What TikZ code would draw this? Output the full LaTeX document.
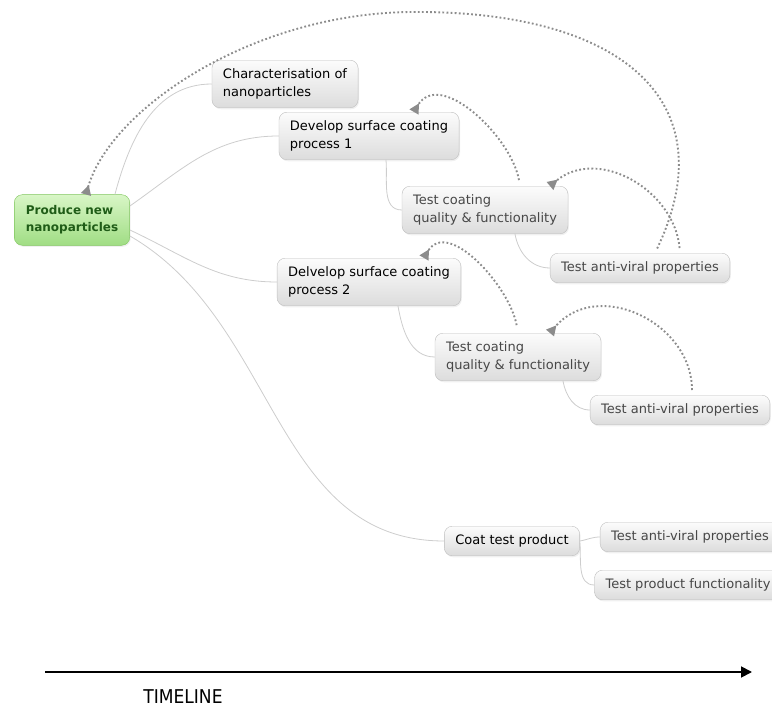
\documentclass[tikz,border=0pt]{standalone}
\usepackage{fontspec}
\usepackage{tikz}
\setmainfont{DejaVu Sans}
\newfontfamily\timelinefont{DejaVu Sans Condensed}
\usetikzlibrary{arrows.meta,shadows}
\definecolor{boxtop}{HTML}{FCFCFC}
\definecolor{boxbottom}{HTML}{DCDCDC}
\definecolor{boxborder}{HTML}{BEBEBE}
\definecolor{roottop}{HTML}{D8F6C6}
\definecolor{rootbottom}{HTML}{A0DD84}
\definecolor{rootborder}{HTML}{7EC55C}
\definecolor{roottext}{HTML}{1F5C17}
\definecolor{branchgray}{HTML}{CDCDCD}
\definecolor{relgray}{HTML}{8C8C8C}
\definecolor{subtext}{HTML}{474747}

\begin{document}
\begin{tikzpicture}[x=1pt,y=1pt,
	every node/.style={font=\fontsize{13}{18}\selectfont,align=left},
	topic/.style={draw=boxborder,top color=boxtop,bottom color=boxbottom,rounded corners=8pt,inner xsep=11pt,inner ysep=8.5pt,drop shadow={opacity=0.12,shadow xshift=1pt,shadow yshift=-1.5pt}},
	subtopic/.style={topic,text=subtext},
	rootnode/.style={topic,draw=rootborder,top color=roottop,bottom color=rootbottom,text=roottext,inner xsep=11.5pt,inner ysep=11pt,font=\fontsize{12}{17}\selectfont\bfseries},
	branch/.style={draw=branchgray,line width=0.8pt},
	relarrow/.style={draw=relgray,line width=1.9pt,dash pattern=on 1.8pt off 2.3pt,-{Triangle[reversed,length=10pt,width=10pt]}}]
		\clip (0,0) rectangle (772,-708);
		\node[rootnode] (prod) at (72,-220) {Produce new\\nanoparticles};
		\node[topic] (charac) at (285,-84) {Characterisation of\\nanoparticles};
		\node[topic] (dev1) at (369,-136) {Develop surface coating\\process 1};
		\node[subtopic] (test1) at (485,-210) {Test coating\\quality \& functionality};
		\node[subtopic] (anti1) at (640,-268) {Test anti-viral properties};
		\node[topic] (dev2) at (369,-282) {Delvelop surface coating\\process 2};
		\node[subtopic] (test2) at (518,-357) {Test coating\\quality \& functionality};
		\node[subtopic] (anti2) at (680,-410) {Test anti-viral properties};
		\node[topic] (coat) at (512,-541) {Coat test product};
		\node[subtopic] (anti3) at (690,-537) {Test anti-viral properties};
		\node[subtopic] (func) at (688,-585) {Test product functionality};
		% branches
		\draw[branch] ([xshift=-15pt]prod.north east) to[out=75,in=180] (charac.west);
		\draw[branch] ([yshift=14pt]prod.east) to[out=35,in=180] (dev1.west);
		\draw[branch] ([yshift=-10pt]prod.east) to[out=-25,in=180] (dev2.west);
		\draw[branch] ([yshift=-16pt]prod.east) to[out=-30,in=180] (coat.west);
		\draw[branch] ([xshift=17pt]dev1.south) to[out=-85,in=180] (test1.west);
		\draw[branch] ([xshift=30pt]test1.south) to[out=-80,in=180] (anti1.west);
		\draw[branch] ([xshift=29pt]dev2.south) to[out=-80,in=180] (test2.west);
		\draw[branch] ([xshift=45pt]test2.south) to[out=-80,in=180] (anti2.west);
		\draw[branch] (coat.east) to[out=10,in=180] (anti3.west);
		\draw[branch] ([yshift=-2pt]coat.east) to[out=-85,in=180] (func.west);
		% feedback loops
		\coordinate (arctop) at (410,-12);
		\draw[relarrow,shorten <=5pt] ([xshift=15pt]anti1.north) .. controls (728,-100) and (620,-10) .. (arctop) .. controls (250,-14) and (110,-110) .. ([xshift=14pt]prod.north);
		\draw[relarrow,shorten <=5pt] ([xshift=40pt]anti1.north) to[out=95,in=40,looseness=1.1] ([xshift=65pt]test1.north);
		\draw[relarrow,shorten <=6pt] ([xshift=35pt]test1.north) to[out=100,in=60] ([xshift=45pt]dev1.north);
		\draw[relarrow,shorten <=8pt] (test2.north) to[out=100,in=60] ([xshift=55pt]dev2.north);
		\draw[relarrow,shorten <=5pt] ([xshift=12pt]anti2.north) to[out=90,in=50,looseness=1.2] ([xshift=32pt]test2.north);
		% timeline
		\coordinate (tstart) at (45,-672);
		\coordinate (tend) at (752,-672);
		\draw[line width=1.8pt,-{Triangle[length=11pt,width=11pt]}] (tstart) -- (tend);
		\node[font=\timelinefont\fontsize{19}{22}\selectfont] (tlabel) at (183,-697) {TIMELINE};
	\end{tikzpicture}
\end{document}
